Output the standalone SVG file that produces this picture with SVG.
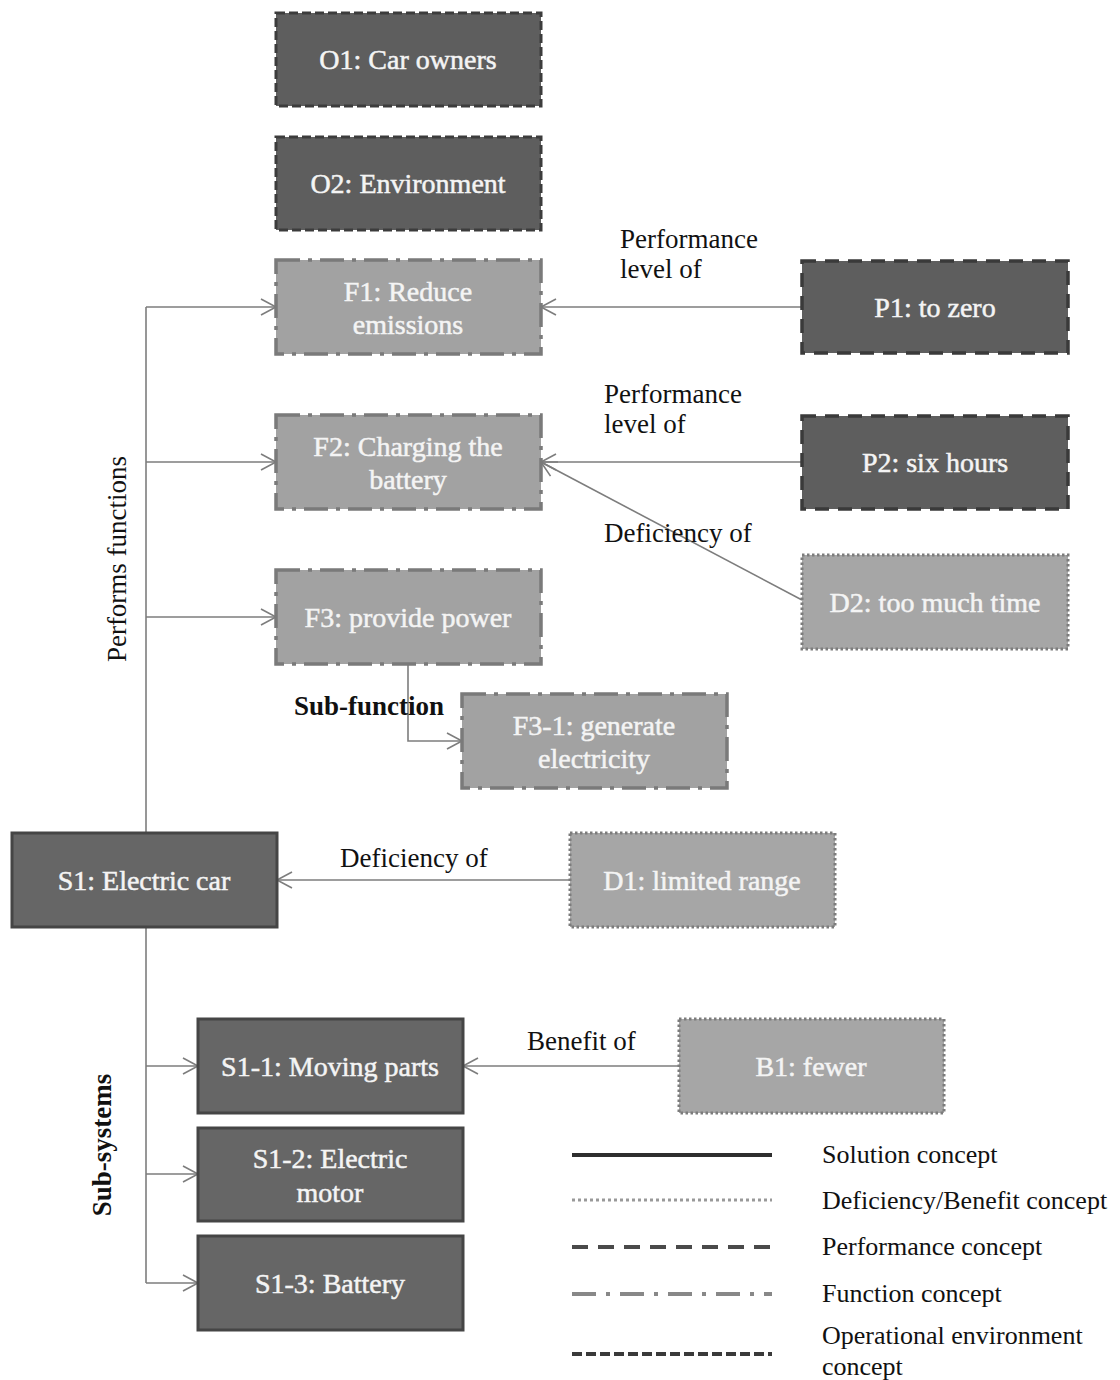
<svg xmlns="http://www.w3.org/2000/svg" width="1120" height="1380" viewBox="0 0 1120 1380">
<style>
text{font-family:"Liberation Serif","Times New Roman",serif}
.bt{font-size:28px;fill:#f4f4f4;stroke:#f4f4f4;stroke-width:0.5;text-anchor:middle}
.lb{font-size:27px;fill:#111}
.lg{font-size:26px;fill:#111}
.env{fill:#5e5e5e;stroke:#3c3c3c;stroke-width:3;stroke-dasharray:9,4}
.perf{fill:#5e5e5e;stroke:#3a3a3a;stroke-width:3.5;stroke-dasharray:14,9}
.func{fill:#a2a2a2;stroke:#7a7a7a;stroke-width:3.5;stroke-dasharray:24,8,4,8}
.def{fill:#a6a6a6;stroke:#7c7c7c;stroke-width:3;stroke-dasharray:2.5,2.5}
.sol{fill:#666;stroke:#454545;stroke-width:3}
.c{fill:none;stroke:#7d7d7d;stroke-width:1.6}
</style>
<defs>
<marker id="ah" markerUnits="userSpaceOnUse" markerWidth="20" markerHeight="20" viewBox="0 0 20 20" refX="16" refY="10" orient="auto">
<path d="M1,2 L16,10 L1,18" fill="none" stroke="#7d7d7d" stroke-width="1.6"/>
</marker>
</defs>
<g id="connectors">
<path class="c" d="M146,833 V307"/>
<path class="c" d="M146,307 H276" marker-end="url(#ah)"/>
<path class="c" d="M146,462 H276" marker-end="url(#ah)"/>
<path class="c" d="M146,617 H276" marker-end="url(#ah)"/>
<path class="c" d="M802,307 H541" marker-end="url(#ah)"/>
<path class="c" d="M802,462 H541" marker-end="url(#ah)"/>
<path class="c" d="M802,600 L541,462" marker-end="url(#ah)"/>
<path class="c" d="M408,664 V741 H462" marker-end="url(#ah)"/>
<path class="c" d="M570,880 H277" marker-end="url(#ah)"/>
<path class="c" d="M146,927 V1283"/>
<path class="c" d="M146,1066 H198" marker-end="url(#ah)"/>
<path class="c" d="M146,1174 H198" marker-end="url(#ah)"/>
<path class="c" d="M146,1283 H198" marker-end="url(#ah)"/>
<path class="c" d="M679,1066 H463" marker-end="url(#ah)"/>
<text class="lb" x="620" y="248">Performance</text>
<text class="lb" x="620" y="278">level of</text>
<text class="lb" x="604" y="403">Performance</text>
<text class="lb" x="604" y="433">level of</text>
<text class="lb" x="604" y="542">Deficiency of</text>
<text class="lb" x="340" y="867">Deficiency of</text>
<text class="lb" x="527" y="1050">Benefit of</text>
<text class="lb" x="294" y="715" font-weight="bold">Sub-function</text>
<text class="lb" transform="translate(126,559) rotate(-90)" text-anchor="middle">Performs functions</text>
<text class="lb" transform="translate(111,1145) rotate(-90)" text-anchor="middle" font-weight="bold" font-size="28">Sub-systems</text>
</g>
<g id="O1"><rect class="env" x="276" y="13" width="265" height="93"/><text class="bt" x="408" y="69">O1: Car owners</text></g>
<g id="O2"><rect class="env" x="276" y="137" width="265" height="93"/><text class="bt" x="408" y="193">O2: Environment</text></g>
<g id="F1"><rect class="func" x="276" y="260" width="265" height="94"/><text class="bt" x="408" y="301">F1: Reduce</text><text class="bt" x="408" y="334">emissions</text></g>
<g id="F2"><rect class="func" x="276" y="415" width="265" height="94"/><text class="bt" x="408" y="456">F2: Charging the</text><text class="bt" x="408" y="489">battery</text></g>
<g id="F3"><rect class="func" x="276" y="570" width="265" height="94"/><text class="bt" x="408" y="627">F3: provide power</text></g>
<g id="F3-1"><rect class="func" x="462" y="694" width="265" height="94"/><text class="bt" x="594" y="735">F3-1: generate</text><text class="bt" x="594" y="768">electricity</text></g>
<g id="P1"><rect class="perf" x="802" y="261" width="266" height="92"/><text class="bt" x="935" y="317">P1:  to zero</text></g>
<g id="P2"><rect class="perf" x="802" y="416" width="266" height="93"/><text class="bt" x="935" y="472">P2:  six hours</text></g>
<g id="D2"><rect class="def" x="802" y="555" width="266" height="94"/><text class="bt" x="935" y="612">D2: too much time</text></g>
<g id="S1"><rect class="sol" x="12" y="833" width="265" height="94"/><text class="bt" x="144" y="890">S1: Electric car</text></g>
<g id="D1"><rect class="def" x="570" y="833" width="265" height="94"/><text class="bt" x="702" y="890">D1: limited range</text></g>
<g id="S1-1"><rect class="sol" x="198" y="1019" width="265" height="94"/><text class="bt" x="330" y="1076">S1-1: Moving parts</text></g>
<g id="S1-2"><rect class="sol" x="198" y="1128" width="265" height="93"/><text class="bt" x="330" y="1168">S1-2: Electric</text><text class="bt" x="330" y="1202">motor</text></g>
<g id="S1-3"><rect class="sol" x="198" y="1236" width="265" height="94"/><text class="bt" x="330" y="1293">S1-3: Battery</text></g>
<g id="B1"><rect class="def" x="679" y="1019" width="265" height="94"/><text class="bt" x="811" y="1076">B1: fewer</text></g>
<g id="legend">
<line x1="572" y1="1155" x2="772" y2="1155" stroke="#2e2e2e" stroke-width="4"/>
<line x1="572" y1="1200" x2="772" y2="1200" stroke="#999" stroke-width="3" stroke-dasharray="3,3"/>
<line x1="572" y1="1247" x2="772" y2="1247" stroke="#4a4a4a" stroke-width="4" stroke-dasharray="16,10"/>
<line x1="572" y1="1294" x2="772" y2="1294" stroke="#888" stroke-width="4" stroke-dasharray="24,10,4,10"/>
<line x1="572" y1="1354" x2="772" y2="1354" stroke="#3a3a3a" stroke-width="4" stroke-dasharray="10,4"/>
<text class="lg" x="822" y="1163">Solution concept</text>
<text class="lg" x="822" y="1209">Deficiency/Benefit concept</text>
<text class="lg" x="822" y="1255">Performance concept</text>
<text class="lg" x="822" y="1302">Function concept</text>
<text class="lg" x="822" y="1344">Operational environment</text>
<text class="lg" x="822" y="1375">concept</text>
</g>
</svg>
